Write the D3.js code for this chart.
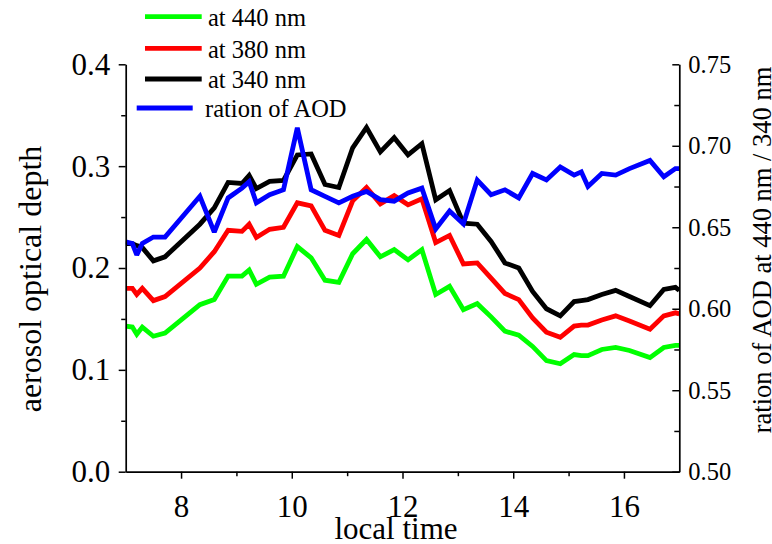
<!DOCTYPE html>
<html>
<head>
<meta charset="utf-8">
<script src="https://cdn.jsdelivr.net/npm/d3@7"></script>
<style>
  html, body { margin: 0; padding: 0; background: #fff; }
  svg { display: block; }
  text { font-family: "Liberation Serif", "Times New Roman", serif; fill: #000; }
</style>
</head>
<body>
<svg id="chart" width="772" height="544"></svg>
<script>
// Local time of each measurement (hours)
const times = [7.0, 7.12, 7.2, 7.3, 7.5, 7.71, 8.34, 8.6, 8.85, 9.1, 9.23, 9.36, 9.6, 9.85,
  10.1, 10.35, 10.6, 10.85, 11.1, 11.35, 11.6, 11.85, 12.1, 12.35, 12.6, 12.85, 13.1, 13.35,
  13.6, 13.85, 14.1, 14.35, 14.6, 14.85, 15.1, 15.23, 15.35, 15.6, 15.85, 16.1, 16.47, 16.72,
  16.93, 17.0];

// Aerosol optical depth at 440 nm
const aod440 = [0.143, 0.142, 0.135, 0.142, 0.133, 0.136, 0.164, 0.169, 0.192, 0.192, 0.198,
  0.184, 0.191, 0.192, 0.221, 0.210, 0.188, 0.186, 0.214, 0.228, 0.211, 0.218, 0.208, 0.218,
  0.174, 0.182, 0.159, 0.165, 0.152, 0.138, 0.134, 0.123, 0.109, 0.106, 0.115, 0.114, 0.114,
  0.120, 0.122, 0.119, 0.112, 0.122, 0.124, 0.124];

// Aerosol optical depth at 380 nm
const aod380 = [0.180, 0.180, 0.174, 0.180, 0.168, 0.172, 0.200, 0.216, 0.237, 0.236, 0.243,
  0.230, 0.238, 0.240, 0.264, 0.261, 0.237, 0.232, 0.266, 0.279, 0.263, 0.271, 0.262, 0.268,
  0.225, 0.232, 0.204, 0.205, 0.190, 0.175, 0.169, 0.151, 0.137, 0.132, 0.143, 0.144, 0.144,
  0.149, 0.153, 0.148, 0.140, 0.153, 0.156, 0.155];

// Aerosol optical depth at 340 nm
const aod340 = [0.224, 0.224, 0.222, 0.220, 0.207, 0.211, 0.243, 0.259, 0.284, 0.283, 0.291,
  0.278, 0.285, 0.286, 0.311, 0.312, 0.282, 0.279, 0.318, 0.338, 0.314, 0.328, 0.311, 0.322,
  0.267, 0.276, 0.244, 0.243, 0.226, 0.205, 0.200, 0.177, 0.160, 0.153, 0.167, 0.168, 0.169,
  0.174, 0.178, 0.172, 0.163, 0.179, 0.181, 0.178];

// Ratio of AOD at 440 nm / 340 nm (right axis)
const ratioAOD = [0.641, 0.640, 0.633, 0.640, 0.644, 0.644, 0.669, 0.647, 0.668, 0.674, 0.678,
  0.665, 0.670, 0.673, 0.711, 0.673, 0.669, 0.665, 0.669, 0.672, 0.667, 0.666, 0.671, 0.674,
  0.649, 0.660, 0.652, 0.679, 0.670, 0.673, 0.668, 0.683, 0.679, 0.687, 0.682, 0.684, 0.675,
  0.683, 0.682, 0.686, 0.691, 0.681, 0.686, 0.686];

// Tick values
const xMajorTicks = [8, 10, 12, 14, 16];
const xMinorTicks = [9, 11, 13, 15];
const yLeftMajorTicks = [0.0, 0.1, 0.2, 0.3, 0.4];
const yLeftMinorTicks = [0.05, 0.15, 0.25, 0.35];
const yRightMajorTicks = [0.50, 0.55, 0.60, 0.65, 0.70, 0.75];
const yRightMinorTicks = [0.525, 0.575, 0.625, 0.675, 0.725];

// Legend entries
const legendLabels = ["at 440 nm", "at 380 nm", "at 340 nm", "ration of AOD"];

const svg = d3.select("#chart");

const x = d3.scaleLinear().domain([7, 17]).range([125.7, 679.3]);
const yL = d3.scaleLinear().domain([0, 0.4]).range([471.7, 64.3]);
const yR = d3.scaleLinear().domain([0.5, 0.75]).range([471.7, 64.3]);

// Clip data lines to the plotting area
svg.append("defs").append("clipPath").attr("id", "plotClip")
  .append("rect")
  .attr("x", x(7)).attr("y", 0)
  .attr("width", x(17) - x(7)).attr("height", yL(0));

const series = [
  { values: aod440, color: "#00ff00", scale: yL },
  { values: aod380, color: "#ff0000", scale: yL },
  { values: aod340, color: "#000000", scale: yL },
  { values: ratioAOD, color: "#0000ff", scale: yR }
];

const plot = svg.append("g").attr("clip-path", "url(#plotClip)");
series.forEach(s => {
  const line = d3.line()
    .x((d, i) => x(times[i]))
    .y(d => s.scale(d));
  plot.append("path")
    .datum(s.values)
    .attr("d", line)
    .attr("fill", "none")
    .attr("stroke", s.color)
    .attr("stroke-width", 4.8)
    .attr("stroke-linejoin", "miter")
    .attr("stroke-miterlimit", 2.5);
});

function styleAxis(g, fontSize) {
  g.select(".domain").attr("stroke", "#000").attr("stroke-width", 1.7);
  g.selectAll(".tick line").attr("stroke", "#000").attr("stroke-width", 1.5);
  g.selectAll(".tick text")
    .attr("font-family", "Liberation Serif, Times New Roman, serif")
    .attr("font-size", fontSize)
    .attr("fill", "#000");
}

// Bottom axis
const xAxis = svg.append("g")
  .attr("transform", `translate(0,${yL(0)})`)
  .call(d3.axisBottom(x).tickValues(xMajorTicks).tickFormat(d3.format("d"))
    .tickSizeInner(7).tickSizeOuter(0).tickPadding(16));
styleAxis(xAxis, 31);
svg.append("g")
  .attr("transform", `translate(0,${yL(0)})`)
  .call(d3.axisBottom(x).tickValues(xMinorTicks).tickFormat("")
    .tickSizeInner(4.5).tickSizeOuter(0))
  .call(g => { g.select(".domain").remove(); styleAxis(g, 31); });

// Left axis
const yAxisL = svg.append("g")
  .attr("transform", `translate(${x(7)},0)`)
  .call(d3.axisLeft(yL).tickValues(yLeftMajorTicks).tickFormat(d3.format(".1f"))
    .tickSizeInner(7).tickSizeOuter(0).tickPadding(8.5));
styleAxis(yAxisL, 31);
svg.append("g")
  .attr("transform", `translate(${x(7)},0)`)
  .call(d3.axisLeft(yL).tickValues(yLeftMinorTicks).tickFormat("")
    .tickSizeInner(4.5).tickSizeOuter(0))
  .call(g => { g.select(".domain").remove(); styleAxis(g, 31); });

// Right axis (ticks point into the plot)
const yAxisR = svg.append("g")
  .attr("transform", `translate(${x(17)},0)`)
  .call(d3.axisRight(yR).tickValues(yRightMajorTicks).tickFormat(d3.format(".2f"))
    .tickSizeInner(-7).tickSizeOuter(0).tickPadding(9));
styleAxis(yAxisR, 24.5);
svg.append("g")
  .attr("transform", `translate(${x(17)},0)`)
  .call(d3.axisRight(yR).tickValues(yRightMinorTicks).tickFormat("")
    .tickSizeInner(-5).tickSizeOuter(0))
  .call(g => { g.select(".domain").remove(); styleAxis(g, 24.5); });

// Axis titles
svg.append("text")
  .attr("x", 396).attr("y", 539)
  .attr("text-anchor", "middle")
  .attr("font-size", 31)
  .text("local time");

svg.append("text")
  .attr("transform", `translate(41,279) rotate(-90)`)
  .attr("text-anchor", "middle")
  .attr("font-size", 32)
  .text("aerosol optical depth");

svg.append("text")
  .attr("transform", `translate(771,250) rotate(-90)`)
  .attr("text-anchor", "middle")
  .attr("font-size", 26.5)
  .text("ration of AOD at 440 nm / 340 nm");

// Legend
const legendRows = [
  { y: 16.7, x1: 145, x2: 201.7, tx: 208 },
  { y: 48.3, x1: 145, x2: 201.7, tx: 208 },
  { y: 79, x1: 145, x2: 201.7, tx: 208 },
  { y: 108, x1: 136.7, x2: 192.7, tx: 205 }
];
const legend = svg.append("g");
legendRows.forEach((r, i) => {
  legend.append("line")
    .attr("x1", r.x1).attr("x2", r.x2)
    .attr("y1", r.y).attr("y2", r.y)
    .attr("stroke", series[i].color)
    .attr("stroke-width", 4.8);
  legend.append("text")
    .attr("x", r.tx).attr("y", r.y + 9.3)
    .attr("font-size", 24.5)
    .text(legendLabels[i]);
});
</script>
</body>
</html>
